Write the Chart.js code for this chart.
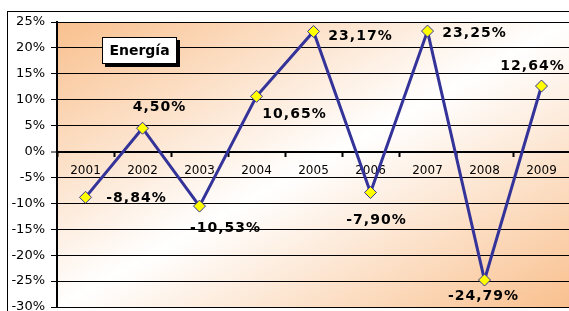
<!DOCTYPE html>
<html><head><meta charset="utf-8">
<script src="https://cdn.jsdelivr.net/npm/chart.js@4"></script>
<style>html,body{margin:0;padding:0;overflow:hidden;background:#fff;width:569px;height:311px}canvas{display:block}</style>
</head><body><canvas id="c" width="580" height="322"></canvas>
<script>
const categories = ['2001', '2002', '2003', '2004', '2005', '2006', '2007', '2008', '2009'];
const energyValues = [-8.84, 4.50, -10.53, 10.65, 23.17, -7.90, 23.25, -24.79, 12.64];
const yMin = -30, yMax = 25, yStep = 5;
const chartTitle = 'Energía';
// label placement (pixels relative to each point), style only
const labelOffsets = [[51, 1], [17, -21], [26, 22], [38, 18], [47, 5], [6, 28], [47, 2], [-1, 16], [-9, -20]];

const fmt = v => v.toFixed(2).replace('.', ',') + '%';

const bgPlugin = {
  id: 'bg',
  beforeDraw(chart) {
    const ctx = chart.ctx, a = chart.chartArea;
    ctx.save();
    ctx.fillStyle = '#fff';
    ctx.fillRect(0, 0, chart.width, chart.height);
    ctx.strokeStyle = '#000';
    ctx.lineWidth = 1;
    ctx.strokeRect(7.5, 11.5, 700, 500);
    ctx.translate(a.left, a.top);
    ctx.scale(a.right - a.left, a.bottom - a.top);
    const g = ctx.createLinearGradient(0, 0, 1, 1);
    g.addColorStop(0, '#F9C08E');
    g.addColorStop(0.5, '#FFFFFF');
    g.addColorStop(1, '#F9C08E');
    ctx.fillStyle = g;
    ctx.fillRect(0, 0, 1, 1);
    ctx.restore();
  }
};

const labelPlugin = {
  id: 'labels',
  afterDatasetsDraw(chart) {
    const ctx = chart.ctx;
    const meta = chart.getDatasetMeta(0);
    ctx.save();
    ctx.font = 'bold 14px "DejaVu Sans"';
    ctx.letterSpacing = '1px';
    ctx.fillStyle = '#000';
    ctx.textAlign = 'center';
    ctx.textBaseline = 'middle';
    meta.data.forEach((pt, i) => {
      const o = labelOffsets[i];
      ctx.fillText(fmt(energyValues[i]), pt.x + o[0], pt.y + o[1]);
    });
    // title box
    const bx = 102, by = 37, bw = 75, bh = 27;
    ctx.fillStyle = '#000';
    ctx.fillRect(bx + 3, by + 3, bw, bh);
    ctx.fillStyle = '#fff';
    ctx.fillRect(bx, by, bw, bh);
    ctx.strokeStyle = '#000';
    ctx.lineWidth = 1;
    ctx.strokeRect(bx + 0.5, by + 0.5, bw - 1, bh - 1);
    ctx.fillStyle = '#000';
    ctx.letterSpacing = '0px';
    ctx.font = 'bold 14px "DejaVu Sans"';
    ctx.fillText(chartTitle, bx + bw / 2, by + bh / 2 + 1);
    ctx.restore();
  }
};

new Chart(document.getElementById('c'), {
  type: 'line',
  data: {
    labels: categories,
    datasets: [{
      data: energyValues,
      borderColor: '#333399',
      borderWidth: 3,
      tension: 0,
      pointStyle: 'rectRot',
      pointRadius: 6,
      pointBackgroundColor: '#FFFF00',
      pointBorderColor: '#333399',
      pointBorderWidth: 1
    }]
  },
  options: {
    responsive: false,
    animation: false,
    layout: { padding: { left: 0, top: 22, right: 10, bottom: 15 } },
    plugins: { legend: { display: false }, tooltip: { enabled: false } },
    scales: {
      y: {
        min: yMin, max: yMax,
        afterFit(scale) { scale.width = 57; },
        ticks: {
          stepSize: yStep,
          padding: 6,
          color: '#000',
          font: { family: '"DejaVu Sans"', size: 13 },
          callback: v => v + '%'
        },
        grid: {
          color: '#000',
          lineWidth: c => (c.tick && c.tick.value === 0 ? 2 : 1),
          tickLength: 6,
          tickColor: '#000',
          tickWidth: 1
        },
        border: { display: true, color: '#000', width: 2 }
      },
      x: {
        position: { y: 0 },
        offset: true,
        ticks: {
          padding: 8,
          color: '#000',
          font: { family: '"DejaVu Sans"', size: 12 },
          maxRotation: 0
        },
        grid: {
          drawOnChartArea: false,
          offset: true,
          tickLength: 4,
          tickColor: '#000',
          tickWidth: 2
        },
        border: { display: true, color: '#000', width: 2 }
      }
    }
  },
  plugins: [bgPlugin, labelPlugin]
});
</script>
</body></html>
